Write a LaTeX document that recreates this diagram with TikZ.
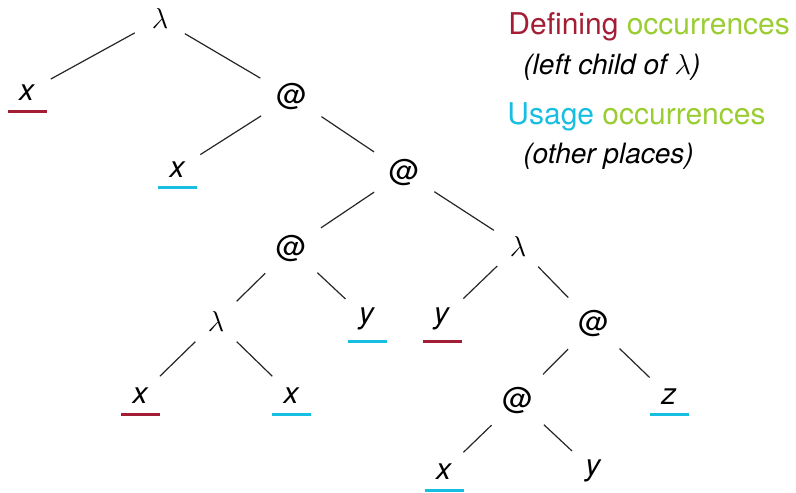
\documentclass[tikz,border=0pt]{standalone}
\usepackage{fontspec}
\setmainfont{TeX Gyre Heros}
\definecolor{defred}{RGB}{163,30,52}
\definecolor{occgreen}{RGB}{154,205,50}
\definecolor{usecyan}{RGB}{22,190,225}
\tikzset{
  tn/.style={circle, inner sep=5.5pt, anchor=base, font=\fontsize{15}{18}\selectfont},
  branch/.style={draw=black!85, line width=0.6pt},
  defbar/.style={draw=defred, line width=1.5pt},
  usebar/.style={draw=usecyan, line width=1.5pt},
  legend/.style={anchor=base west, inner sep=0pt, font=\fontsize{15}{18}\selectfont},
  note/.style={anchor=base west, inner sep=0pt, font=\fontsize{14}{17}\selectfont\itshape},
}
% bar under an occurrence: #1 style, #2 node, #3 drop below the baseline
\newcommand\occbar[3]{\draw[#1] ([shift={(-19.5,#3)}]#2.base) -- ++(39,0);}
\begin{document}
\begin{tikzpicture}[x=0.5pt,y=-0.5pt]
\useasboundingbox (0,0) rectangle (796,492);

% tree nodes (placed by baseline)
\node[tn] (r)  at (160,29)    {$\lambda$};
\node[tn] (xa) at (27,100)    {\textit{x}};
\node[tn] (a1) at (291.5,105.5) {@};
\node[tn] (xb) at (177.5,177) {\textit{x}};
\node[tn] (a2) at (404,181)   {@};
\node[tn] (a3) at (291,257)   {@};
\node[tn] (l2) at (518,256)   {$\lambda$};
\node[tn] (l3) at (216,331.5) {$\lambda$};
\node[tn] (ya) at (367,323.7) {\textit{y}};
\node[tn] (yb) at (442,323.7) {\textit{y}};
\node[tn] (a4) at (593.5,332.5) {@};
\node[tn] (xc) at (140.5,403) {\textit{x}};
\node[tn] (xd) at (291.7,403) {\textit{x}};
\node[tn] (a5) at (517.5,409) {@};
\node[tn] (z)  at (669,404)   {\textit{z}};
\node[tn] (xe) at (444,479)   {\textit{x}};
\node[tn] (yc) at (593.5,475.7) {\textit{y}};

% branches
\draw[branch] (r) -- (xa);
\draw[branch] (r) -- (a1);
\draw[branch] (a1) -- (xb);
\draw[branch] (a1) -- (a2);
\draw[branch] (a2) -- (a3);
\draw[branch] (a2) -- (l2);
\draw[branch] (a3) -- (l3);
\draw[branch] (a3) -- (ya);
\draw[branch] (l3) -- (xc);
\draw[branch] (l3) -- (xd);
\draw[branch] (l2) -- (yb);
\draw[branch] (l2) -- (a4);
\draw[branch] (a4) -- (a5);
\draw[branch] (a4) -- (z);
\draw[branch] (a5) -- (xe);
\draw[branch] (a5) -- (yc);

% defining / usage bars
\occbar{defbar}{xa}{11.5}
\occbar{usebar}{xb}{10.5}
\occbar{usebar}{ya}{18}
\occbar{defbar}{yb}{18}
\occbar{defbar}{xc}{11.3}
\occbar{usebar}{xd}{11.3}
\occbar{usebar}{z}{10.5}
\occbar{usebar}{xe}{11}

% legend
\node[legend] (ldef) at (508,35) {\textcolor{defred}{Defining} \textcolor{occgreen}{occurrences}};
\node[note]   (ndef) at (523,75) {(left child of $\lambda$)};
\node[legend] (luse) at (507,125) {\textcolor{usecyan}{Usage} \textcolor{occgreen}{occurrences}};
\node[note]   (nuse) at (523,163) {(other places)};
\end{tikzpicture}
\end{document}
